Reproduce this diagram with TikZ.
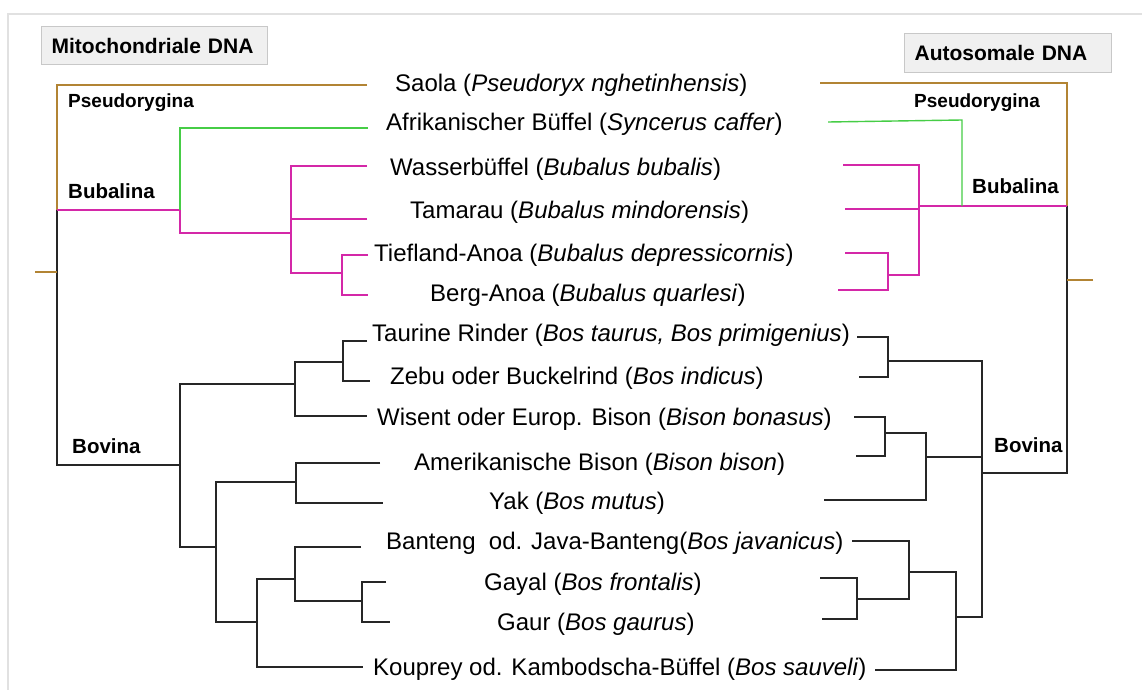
\documentclass[tikz,border=0pt]{standalone}
\usepackage{fontspec}
\setmainfont{Liberation Sans}
\definecolor{brn}{RGB}{178,132,52}
\definecolor{grn}{RGB}{70,205,70}
\definecolor{pnk}{RGB}{212,40,168}
\definecolor{boxfill}{RGB}{240,240,240}
\definecolor{boxline}{RGB}{200,200,200}
\definecolor{frm}{RGB}{225,225,225}
\begin{document}
\begin{tikzpicture}[x=1pt,y=-1pt,
  sp/.style={anchor=base west,inner sep=0pt,font=\fontsize{24}{28}\selectfont},
  cl/.style={anchor=base west,inner sep=0pt,font=\bfseries\fontsize{20.5}{24}\selectfont},
  clsm/.style={anchor=base west,inner sep=0pt,font=\bfseries\fontsize{19}{23}\selectfont},
  ttl/.style={draw=boxline,fill=boxfill,line width=1.2pt,anchor=north west,inner xsep=10pt,inner ysep=0pt,align=left,font=\bfseries\fontsize{21}{25}\selectfont},
  lk/.style={line width=1.4pt,draw=black!85},
  lkb/.style={line width=1.4pt,draw=brn},
  lkg/.style={line width=1.4pt,draw=grn},
  lkp/.style={line width=1.4pt,draw=pnk},
]
\useasboundingbox (0,0) rectangle (1142,690);
\fill[white] (0,0) rectangle (1142,690);
\draw[draw=frm,line width=1.5pt] (8,690) -- (8,14) -- (1142,14);

% title boxes
\node[ttl,text width=206pt,minimum height=38pt] (mito) at (41,26) {Mitochondriale DNA};
\node[ttl,text width=187pt,minimum height=39pt] (auto) at (904,33) {Autosomale DNA};

% species
\node[sp] (saola) at (395,92) {Saola (\textit{Pseudoryx nghetinhensis})};
\node[sp] (afrik) at (386,131) {Afrikanischer Büffel (\textit{Syncerus caffer})};
\node[sp] (wasser) at (390,175) {Wasserbüffel (\textit{Bubalus bubalis})};
\node[sp] (tamarau) at (410,218) {Tamarau (\textit{Bubalus mindorensis})};
\node[sp] (tiefland) at (374,261) {Tiefland-Anoa (\textit{Bubalus depressicornis})};
\node[sp] (berg) at (430,301) {Berg-Anoa (\textit{Bubalus quarlesi})};
\node[sp] (taurine) at (372,341) {Taurine Rinder (\textit{Bos taurus, Bos primigenius})};
\node[sp] (zebu) at (390,384) {Zebu oder Buckelrind (\textit{Bos indicus})};
\node[sp] (wisent) at (377,425) {Wisent oder Europ. Bison (\textit{Bison bonasus})};
\node[sp] (amerik) at (414,470) {Amerikanische Bison (\textit{Bison bison})};
\node[sp] (yak) at (489,509) {Yak (\textit{Bos mutus})};
\node[sp] (banteng) at (386,549) {Banteng\ \ od. Java-Banteng(\textit{Bos javanicus})};
\node[sp] (gayal) at (484,590) {Gayal (\textit{Bos frontalis})};
\node[sp] (gaur) at (497,630) {Gaur (\textit{Bos gaurus})};
\node[sp] (kouprey) at (373,675) {Kouprey od. Kambodscha-Büffel (\textit{Bos sauveli})};

% clade labels
\node[clsm] (psL) at (68,108) {Pseudorygina};
\node[cl] (buL) at (68,198) {Bubalina};
\node[cl] (boL) at (72,453) {Bovina};
\node[clsm] (psR) at (914,108) {Pseudorygina};
\node[cl] (buR) at (972,193) {Bubalina};
\node[cl] (boR) at (994,452) {Bovina};

% ---------- left tree (mitochondrial) ----------
\coordinate (s1L) at (367,85);
\coordinate (s2L) at (368,128);
\coordinate (s3L) at (367,166);
\coordinate (s4L) at (367,219);
\coordinate (s5L) at (368,255);
\coordinate (s6L) at (368,295);
\coordinate (s7L) at (367,341);
\coordinate (s8L) at (370,381);
\coordinate (s9L) at (367,416);
\coordinate (s10L) at (380,463);
\coordinate (s11L) at (383,503);
\coordinate (s12L) at (361,547);
\coordinate (s13L) at (386,582);
\coordinate (s14L) at (390,622);
\coordinate (s15L) at (363,667);
\coordinate (rL) at (57,210);
\coordinate (tickL) at (35,272);
\coordinate (a1) at (342,273);
\coordinate (a2) at (291,233);
\coordinate (a3) at (180,210);
\coordinate (bovL) at (180,465);
\coordinate (b2) at (295,384);
\coordinate (b3) at (216,547);
\coordinate (b4) at (343,362);
\coordinate (b5) at (296,482);
\coordinate (b6) at (257,622);
\coordinate (b7) at (295,579);
\coordinate (b8) at (362,601);

\draw[lkb] (s1L) -| (rL);
\draw[lk] (rL) |- (bovL);
\draw[lkb] (tickL) -- (tickL -| rL);
\draw[lkp] (rL) -- (a3);
\draw[lkg] (s2L) -| (a3);
\draw[lkp] (a3) |- (a2);
\draw[lkp] (s3L) -| (a2) |- (a1);
\draw[lkp] (s4L) -- (s4L -| a2);
\draw[lkp] (s5L) -| (a1) |- (s6L);
\draw[lk] (b2) -| (bovL) |- (b3);
\draw[lk] (b4) -| (b2) |- (s9L);
\draw[lk] (s7L) -| (b4) |- (s8L);
\draw[lk] (b5) -| (b3) |- (b6);
\draw[lk] (s10L) -| (b5) |- (s11L);
\draw[lk] (b7) -| (b6) |- (s15L);
\draw[lk] (s12L) -| (b7) |- (b8);
\draw[lk] (s13L) -| (b8) |- (s14L);

% ---------- right tree (autosomal) ----------
\coordinate (s1R) at (820,83);
\coordinate (s2R) at (828,122);
\coordinate (s3R) at (843,165);
\coordinate (s4R) at (845,209);
\coordinate (s5R) at (845,253);
\coordinate (s6R) at (838,290);
\coordinate (s7R) at (857,337);
\coordinate (s8R) at (859,377);
\coordinate (s9R) at (854,417);
\coordinate (s10R) at (856,456);
\coordinate (s11R) at (824,500);
\coordinate (s12R) at (852,541);
\coordinate (s13R) at (820,578);
\coordinate (s14R) at (822,619);
\coordinate (s15R) at (875,670);
\coordinate (rR) at (1067,206);
\coordinate (tickR) at (1093,280);
\coordinate (gk) at (962,120);
\coordinate (c3) at (962,206);
\coordinate (c2) at (919,206);
\coordinate (c1) at (888,275);
\coordinate (bovR) at (982,473);
\coordinate (d1) at (888,361);
\coordinate (d2) at (926,457);
\coordinate (d3) at (956,617);
\coordinate (d4) at (885,433);
\coordinate (d5) at (909,572);
\coordinate (d6) at (857,599);

\draw[lkb] (s1R) -| (rR);
\draw[lk] (rR) |- (bovR);
\draw[lkb] (tickR) -- (tickR -| rR);
\draw[lkp] (c2) -- (rR);
\draw[lkg] (s2R) -- (gk) -- (c3);
\draw[lkp] (s3R) -| (c2) |- (c1);
\draw[lkp] (s4R) -- (s4R -| c2);
\draw[lkp] (s5R) -| (c1) |- (s6R);
\draw[lk] (d1) -| (bovR) |- (d3);
\draw[lk] (d2) -- (d2 -| bovR);
\draw[lk] (s7R) -| (d1) |- (s8R);
\draw[lk] (d4) -| (d2) |- (s11R);
\draw[lk] (s9R) -| (d4) |- (s10R);
\draw[lk] (d5) -| (d3) |- (s15R);
\draw[lk] (s12R) -| (d5) |- (d6);
\draw[lk] (s13R) -| (d6) |- (s14R);
\end{tikzpicture}
\end{document}
